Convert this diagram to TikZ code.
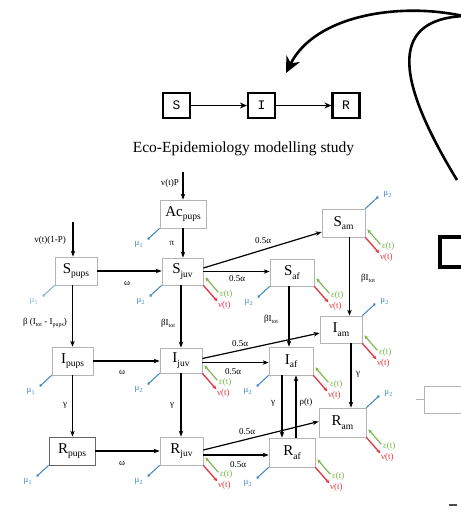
\documentclass[tikz,border=0pt]{standalone}
\usepackage{fontspec}
\setmainfont{Liberation Serif}
\newfontfamily\sirmono{Liberation Mono}
\usetikzlibrary{arrows.meta,calc}
\definecolor{boxgray}{HTML}{B4B4B4}
\definecolor{mublue}{HTML}{3E86C4}
\definecolor{mulight}{HTML}{7FB6DA}
\definecolor{imgreen}{HTML}{79B548}
\definecolor{emred}{HTML}{E2343F}
\newcommand\cmp[2]{#1\raisebox{-0.22em}{\fontsize{9.5}{9.5}\selectfont #2}}
\newcommand\sbs[1]{\raisebox{-0.2em}{\fontsize{6}{6}\selectfont #1}}
\newcommand\mysw[3]{% node, index, colour
  \coordinate (#1-mu) at ($(#1.south west)+(-12,11)$);
  \draw[mulink,draw=#3] (#1.south west) -- (#1-mu);
  \node[lab,text=#3] (#1-mul) at ($(#1.south west)+(-21,16)$) {μ\sbs{#2}};}
\newcommand\myne[1]{%
  \coordinate (#1-mu) at ($(#1.north east)+(13,-12)$);
  \draw[mulink] (#1.north east) -- (#1-mu);
  \node[lab,text=mublue] (#1-mul) at ($(#1.north east)+(22,-14)$) {μ\sbs{2}};}
\newcommand\migr[1]{%
  \coordinate (#1-gi) at ($(#1.south east)+(15,7)$);
  \coordinate (#1-go) at ($(#1.south east)+(2,-8)$);
  \coordinate (#1-ro) at ($(#1.south east)+(14,16)$);
  \draw[inlink] (#1-gi) -- (#1-go);
  \draw[outlink] (#1.south east) -- (#1-ro);
  \node[lab,text=imgreen] (#1-gl) at ($(#1.south east)+(23,9)$) {ε(t)};
  \node[lab,text=emred] (#1-rl) at ($(#1.south east)+(21,20)$) {ν(t)};}
\begin{document}
\begin{tikzpicture}[x=1pt,y=-1pt,
  comp/.style={draw=boxgray, line width=0.7pt, fill=white, inner sep=0pt, font=\fontsize{15}{15}\selectfont},
  sir/.style={draw=black, line width=2.2pt, fill=white, inner sep=0pt, minimum width=27pt, minimum height=25pt, font=\sirmono\fontsize{13}{13}\selectfont},
  flow/.style={draw=black, line width=1.2pt, -{Stealth[length=6pt,width=4.5pt]}},
  sirflow/.style={draw=black, line width=1.6pt, -{Stealth[length=7pt,width=6pt]}},
  lab/.style={inner sep=0pt, font=\fontsize{9}{9}\selectfont},
  mulink/.style={draw=mublue, line width=1pt, -{Circle[length=2.5pt]}},
  inlink/.style={draw=imgreen, line width=1.1pt, -{Stealth[length=4pt,width=3.5pt]}},
  outlink/.style={draw=emred, line width=1.3pt, -{Stealth[length=4pt,width=3.5pt]}},
  bigarrow/.style={draw=black, line width=2.6pt}]
\useasboundingbox[fill=white] (0,0) rectangle (461,512);

% ---------- top part ----------
\coordinate (src) at (463,16);
\coordinate (tip) at (286,73);
\draw[bigarrow, -{Stealth[length=16pt,width=15pt]}] (src) .. controls (400,2) and (315,15) .. (tip);
\coordinate (loopend) at (457,180);
\draw[bigarrow] (src) .. controls (395,20) and (390,70) .. (loopend);
\coordinate (brA) at (463,237);
\coordinate (brB) at (440,237);
\coordinate (brC) at (440,267);
\coordinate (brD) at (463,267);
\draw[black, line width=4.5pt] (brA) -- (brB) -- (brC) -- (brD);
\coordinate (gbA) at (463,386);
\coordinate (gbB) at (424,386);
\coordinate (gbC) at (424,413);
\coordinate (gbD) at (463,413);
\coordinate (gtA) at (416,399);
\coordinate (gtB) at (424,399);
\draw[boxgray, line width=0.8pt] (gbA) -- (gbB) -- (gbC) -- (gbD);
\draw[boxgray, line width=0.8pt] (gtA) -- (gtB);
\coordinate (dsA) at (449,505);
\coordinate (dsB) at (457,505);
\draw[black!70, line width=1.2pt] (dsA) -- (dsB);

\node[sir] (S) at (176.5,105.5) {S};
\node[sir] (I) at (261.5,105.5) {I};
\node[sir] (R) at (346,105.5) {R};
\draw[sirflow] (S) -- (I);
\draw[sirflow] (I) -- (R);
\node[inner sep=0pt, font=\fontsize{15.5}{15.5}\selectfont] (title) at (243.5,149) {Eco-Epidemiology modelling study};

% ---------- compartments ----------
\node[comp, minimum width=46pt, minimum height=28pt] (Ac) at (183,214) {\cmp{Ac}{pups}};
\node[comp, minimum width=42pt, minimum height=28pt] (Spups) at (76,271) {\cmp{S}{pups}};
\node[comp, minimum width=41pt, minimum height=27pt] (Sjuv) at (182.5,271.5) {\cmp{S}{juv}};
\node[comp, minimum width=44pt, minimum height=27pt] (Saf) at (292,272.5) {\cmp{S}{af}};
\node[comp, minimum width=43pt, minimum height=28pt] (Sam) at (343.5,223) {\cmp{S}{am}};
\node[comp, minimum width=41pt, minimum height=28pt] (Ipups) at (72.5,361) {\cmp{I}{pups}};
\node[comp, minimum width=42pt, minimum height=25pt] (Ijuv) at (181,360.5) {\cmp{I}{juv}};
\node[comp, minimum width=44pt, minimum height=28pt] (Iaf) at (291,361) {\cmp{I}{af}};
\node[comp, minimum width=42pt, minimum height=27pt] (Iam) at (341,329.5) {\cmp{I}{am}};
\node[comp, draw=black!60, minimum width=46pt, minimum height=28pt] (Rpups) at (72,451) {\cmp{R}{pups}};
\node[comp, minimum width=43pt, minimum height=28pt] (Rjuv) at (181.5,451) {\cmp{R}{juv}};
\node[comp, minimum width=46pt, minimum height=29pt] (Raf) at (292,452.5) {\cmp{R}{af}};
\node[comp, minimum width=47pt, minimum height=29pt] (Ram) at (342.5,422.5) {\cmp{R}{am}};

% inflows
\coordinate (inAc) at (183,172);
\draw[flow] (inAc) -- (Ac.north);
\node[lab, anchor=east] (lvP) at (179,183) {v(t)P};
\coordinate (inSp) at (73,222);
\draw[flow] (inSp) -- (inSp |- Spups.north);
\node[lab, anchor=east] (lvQ) at (66,240) {v(t)(1-P)};

% flows
\draw[flow] (Ac.south) -- (Ac.south |- Sjuv.north);
\node[lab] (lpi) at (172,243) {π};
\draw[flow] (Spups.east) -- (Spups.east -| Sjuv.west);
\node[lab] (lw1) at (127,283) {ω};
\draw[flow] (Sjuv.east) -- (Sjuv.east -| Saf.west);
\node[lab] (la1) at (237,279) {0.5α};
\draw[flow] ([yshift=3.5pt]Sjuv.east) -- ([yshift=-9pt]Sam.west);
\node[lab] (la2) at (263,241) {0.5α};
\draw[flow] ([xshift=6pt]Sam.south) -- ([xshift=6pt]Sam.south |- Iam.north);
\node[lab] (lb1) at (368,278) {βI\sbs{tot}};
\draw[flow] ([xshift=-3pt]Saf.south) -- ([xshift=-3pt]Saf.south |- Iaf.north);
\node[lab] (lb2) at (271,319) {βI\sbs{tot}};
\draw[flow] (Spups.south -| Ipups.north) -- (Ipups.north);
\node[lab] (lb3) at (45,323) {β (I\sbs{tot} - I\sbs{pups})};
\draw[flow] (Sjuv.south -| Ijuv.north) -- (Ijuv.north);
\node[lab] (lb4) at (168,323) {βI\sbs{tot}};

\draw[flow] (Ipups.east) -- (Ipups.east -| Ijuv.west);
\node[lab] (lw2) at (122,372) {ω};
\draw[flow] ([yshift=-2pt]Ijuv.east) -- ([yshift=-2pt]Ijuv.east -| Iaf.west);
\node[lab] (la3) at (233,372) {0.5α};
\draw[flow] ([yshift=2pt]Ijuv.east) -- ([yshift=-3.5pt]Iam.west);
\node[lab] (la4) at (240,344) {0.5α};

\draw[flow] (Ipups.south) -- (Ipups.south |- Rpups.north);
\node[lab] (lg1) at (65,405) {γ};
\draw[flow] (Ijuv.south) -- (Ijuv.south |- Rjuv.north);
\node[lab] (lg2) at (172,405) {γ};
\draw[flow] ([xshift=-9pt]Iaf.south) -- ([xshift=-9pt]Iaf.south |- Raf.north);
\node[lab] (lg3) at (273,403) {γ};
\draw[flow] ([xshift=4pt]Raf.north) -- ([xshift=4pt]Raf.north |- Iaf.south);
\node[lab] (lr) at (306,402) {ρ(t)};
\draw[flow] ([xshift=10pt]Iam.south) -- ([xshift=10pt]Iam.south |- Ram.north);
\node[lab] (lg4) at (358,374) {γ};

\draw[flow] (Rpups.east) -- (Rpups.east -| Rjuv.west);
\node[lab] (lw3) at (122,463) {ω};
\draw[flow] ([yshift=-4pt]Rjuv.east) -- ([yshift=-4pt]Rjuv.east -| Raf.west);
\node[lab] (la5) at (238,465) {0.5α};
\draw[flow] ([yshift=1pt]Rjuv.east) -- ([yshift=1pt]Ram.west);
\node[lab] (la6) at (247,432) {0.5α};

% natural mortality
\mysw{Ac}{1}{mublue}
\mysw{Spups}{1}{mulight}
\mysw{Sjuv}{2}{mublue}
\mysw{Saf}{2}{mublue}
\mysw{Ipups}{1}{mublue}
\mysw{Ijuv}{2}{mublue}
\mysw{Iaf}{2}{mublue}
\mysw{Rpups}{1}{mublue}
\mysw{Rjuv}{2}{mublue}
\mysw{Raf}{2}{mublue}
\myne{Sam}
\myne{Iam}
\myne{Ram}

% migration
\migr{Sjuv}
\migr{Saf}
\migr{Sam}
\migr{Ijuv}
\migr{Iaf}
\migr{Iam}
\migr{Rjuv}
\migr{Raf}
\migr{Ram}
\end{tikzpicture}
\end{document}
